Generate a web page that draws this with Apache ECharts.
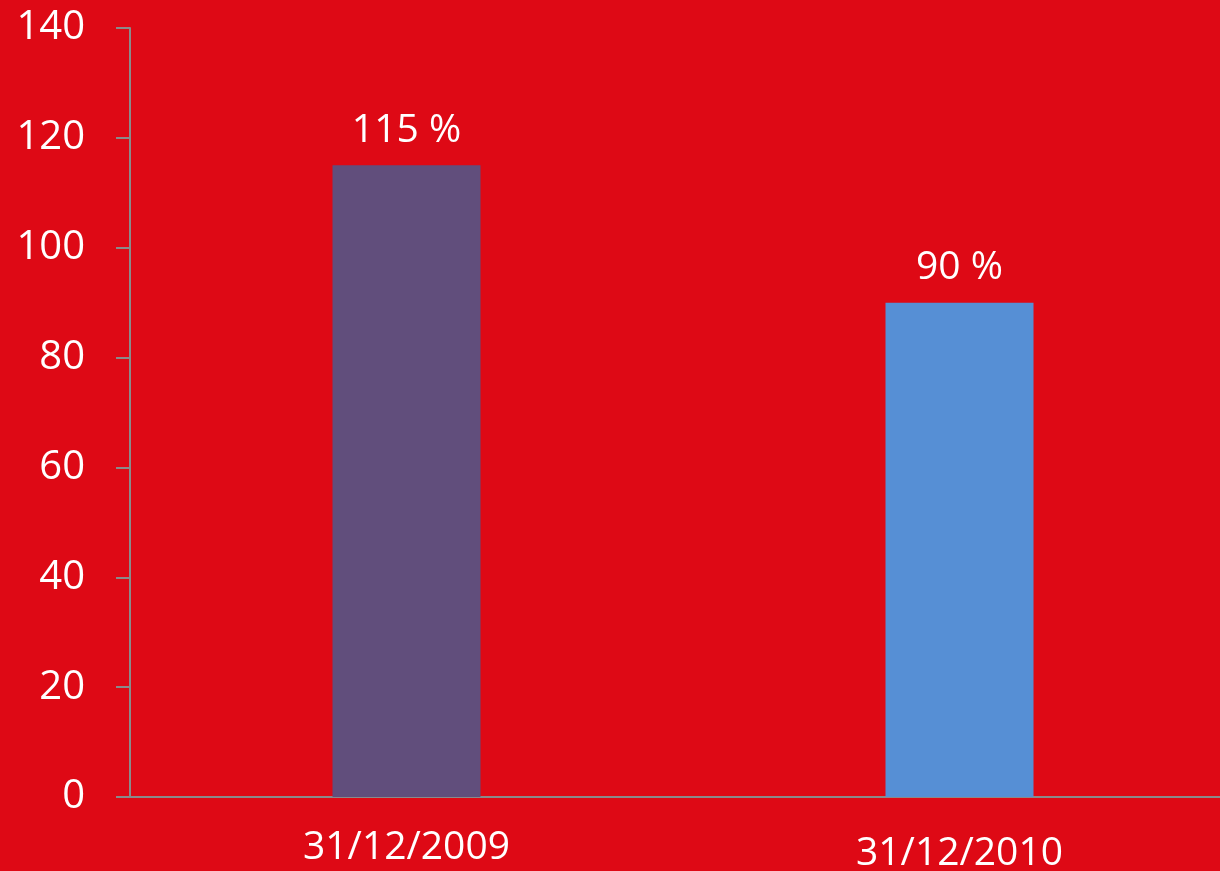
<!DOCTYPE html>
<html>
<head>
<meta charset="utf-8">
<script src="https://cdn.jsdelivr.net/npm/echarts@6/dist/echarts.min.js"></script>
<style>
  html, body { margin: 0; padding: 0; background: #de0915; }
  #chart { width: 1220px; height: 871px; }
</style>
</head>
<body>
<div id="chart"></div>
<script>
// chart data
const categories = ["31/12/2009", "31/12/2010"];
const values = [115, 90];
const barColors = ["#614e7c", "#568fd5"];
const valueLabels = ["115 %", "90 %"];

const chart = echarts.init(document.getElementById("chart"));

const option = {
  backgroundColor: "#de0915",
  textStyle: { fontFamily: "Open Sans" },
  grid: {
    left: 130,
    right: -16,
    top: 28,
    bottom: 74,
    containLabel: false,
    outerBoundsMode: "none",
  },
  xAxis: {
    type: "category",
    data: categories,
    axisLine: { lineStyle: { color: "#8a8a8a", width: 2 } },
    axisTick: { show: false },
    axisLabel: {
      color: "#fff",
      fontSize: 39,
      margin: 31,
      formatter: function (v, i) {
        // second date sits a little lower in the original
        return i === 1 ? "{b|" + v + "}" : "{a|" + v + "}";
      },
      rich: {
        a: { color: "#fff", fontSize: 39, fontFamily: "Open Sans" },
        b: { color: "#fff", fontSize: 39, fontFamily: "Open Sans", padding: [6, 0, 0, 0] },
      },
    },
  },
  yAxis: {
    type: "value",
    min: 0,
    max: 140,
    interval: 20,
    splitLine: { show: false },
    axisLine: { show: true, lineStyle: { color: "#8a8a8a", width: 2 } },
    axisTick: { show: true, length: 14, lineStyle: { color: "#8a8a8a", width: 2 } },
    axisLabel: { color: "#fff", fontSize: 40, margin: 45 },
  },
  series: [
    {
      type: "bar",
      barWidth: 148,
      data: values.map((v, i) => ({ value: v, itemStyle: { color: barColors[i] } })),
      label: {
        show: true,
        position: "top",
        distance: 15,
        color: "#fff",
        fontSize: 39,
        formatter: (p) => valueLabels[p.dataIndex],
      },
    },
  ],
};

chart.setOption(option);
</script>
</body>
</html>
